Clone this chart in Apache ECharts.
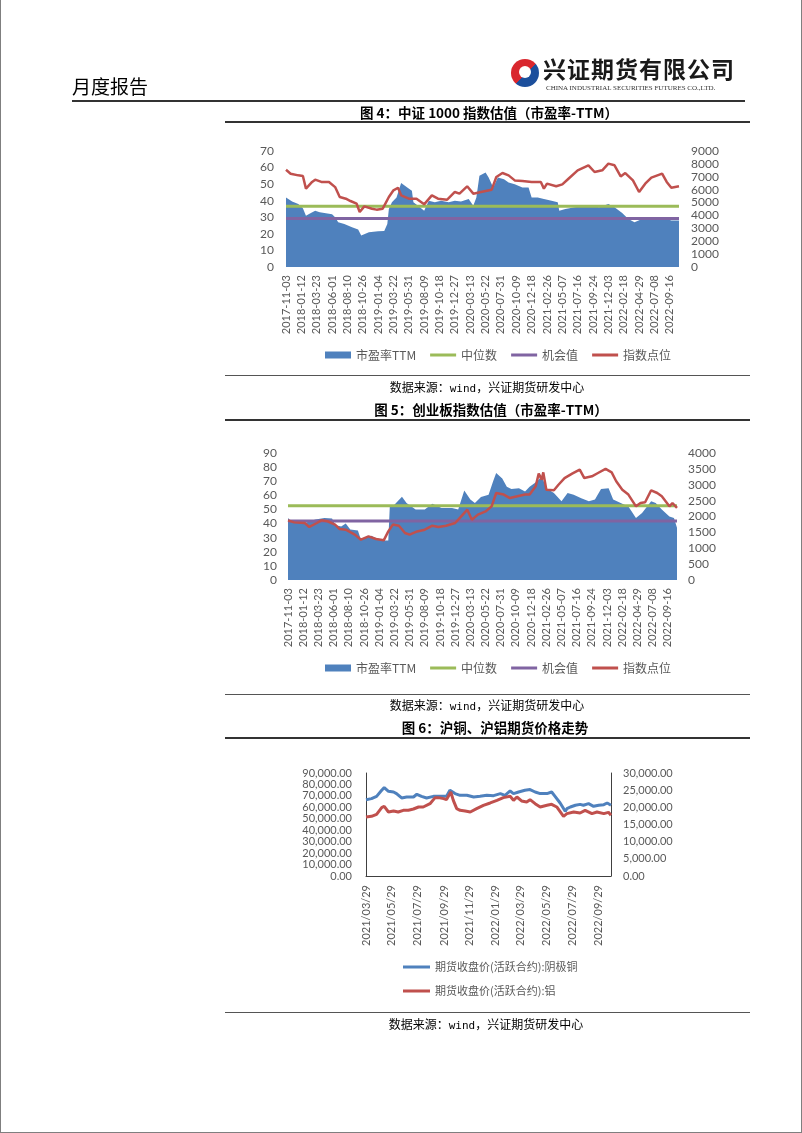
<!DOCTYPE html>
<html>
<head>
<meta charset="utf-8">
<script src="https://cdn.jsdelivr.net/npm/echarts@6/dist/echarts.min.js"></script>
<style>
html, body { margin: 0; padding: 0; background: #fff; }
#page { position: relative; width: 802px; height: 1133px; overflow: hidden; font-family: "Noto Sans CJK SC", sans-serif; }
#frame { position: absolute; left: 0; top: 0; width: 802px; height: 1133px; box-sizing: border-box; border: 1px solid #7f7f7f; border-top: none; }
#chart { position: absolute; left: 0; top: 0; width: 802px; height: 1133px; }
.t { position: absolute; white-space: nowrap; }
.rule { position: absolute; height: 1px; background: #333; }
.cap { position: absolute; font-weight: bold; font-size: 13.5px; line-height: 16px; transform: translateX(-50%); white-space: nowrap; color: #000; }
.src { position: absolute; font-size: 12px; line-height: 14px; transform: translateX(-50%); white-space: nowrap; color: #000; }
.src span { font-family: "DejaVu Sans Mono", monospace; font-size: 11px; }
#logo { position: absolute; left: 511px; top: 59px; width: 28px; height: 28px; border-radius: 50%;
  background: linear-gradient(135deg, #d9272e 0%, #d9272e 52%, #1c4f9c 52%, #1c4f9c 100%); }
#logo::after { content: ""; position: absolute; left: 8px; top: 7px; width: 12px; height: 12px; border-radius: 50%; background: #fff; }
</style>
</head>
<body>
<div id="page">
  <div id="chart"></div>
  <div id="frame"></div>
  <div class="t" style="left:72px;top:75px;font-size:19px;line-height:22px;color:#000;">月度报告</div>
  <div id="logo"></div>
  <div class="t" style="left:543px;top:56px;font-size:23px;line-height:25px;font-weight:bold;letter-spacing:1px;color:#1a1a1a;">兴证期货有限公司</div>
  <div class="t" style="left:546px;top:84px;font-size:7px;line-height:8px;font-family:'Liberation Serif',serif;color:#333;">CHINA INDUSTRIAL SECURITIES FUTURES CO.,LTD.</div>
  <div class="rule" style="left:72px;top:100px;width:673px;height:1.5px;"></div>

  <div class="cap" style="left:489px;top:104px;">图 4：中证 1000 指数估值（市盈率-TTM）</div>
  <div class="rule" style="left:225px;top:121px;width:525px;height:1.5px;"></div>
  <div class="rule" style="left:225px;top:375px;width:525px;background:#555;"></div>
  <div class="src" style="left:487px;top:380px;">数据来源：<span>wind</span>，兴证期货研发中心</div>

  <div class="cap" style="left:491px;top:401px;">图 5：创业板指数估值（市盈率-TTM）</div>
  <div class="rule" style="left:225px;top:419px;width:525px;height:1.5px;"></div>
  <div class="rule" style="left:225px;top:694px;width:525px;background:#555;"></div>
  <div class="src" style="left:487px;top:698px;">数据来源：<span>wind</span>，兴证期货研发中心</div>

  <div class="cap" style="left:495px;top:719px;">图 6：沪铜、沪铝期货价格走势</div>
  <div class="rule" style="left:225px;top:737px;width:525px;height:1.5px;"></div>
  <div class="rule" style="left:225px;top:1012px;width:525px;background:#555;"></div>
  <div class="src" style="left:486px;top:1017px;">数据来源：<span>wind</span>，兴证期货研发中心</div>
</div>
<script>
// ---- 图4 中证1000 (周数据, 以周序号定位) ----
const csiTicks = ['2017-11-03','2018-01-12','2018-03-23','2018-06-01','2018-08-10','2018-10-26','2019-01-04','2019-03-22','2019-05-31','2019-08-09','2019-10-18','2019-12-27','2020-03-13','2020-05-22','2020-07-31','2020-10-09','2020-12-18','2021-02-26','2021-05-07','2021-07-16','2021-09-24','2021-12-03','2022-02-18','2022-04-29','2022-07-08','2022-09-16'];
const lastWeek = 256;
const csiPeWeeks = [0,4,8,11,13,15,19,22,25,30,32,34,38,43,47,49,54,60,64,66,67,69,72,75,79,82,83,86,90,93,97,101,106,110,114,119,122,124,126,130,132,135,138,142,145,149,154,158,160,164,168,173,177,178,182,188,197,204,210,214,219,223,227,232,238,245,251,256];
const csiPe = [42,39.6,38,35.5,31,32,34,33,32.6,31.8,30,27,26,24,22.7,19,21,21.5,21.7,26,35,39,42,50.7,48,46,39,37,34,40,39,40,39,40,39.6,41,37,42,55,57,54,48,54,53,51,50,48,48,42,42,41,40,39,34,35,36,37,36,38,36,32.6,29,27,29,30,30,28,28];
const csiIdxWeeks = [0,3,8,11,13,17,19,23,28,32,35,39,42,46,48,51,56,59,63,67,70,73,75,80,85,90,95,99,105,110,113,118,122,127,134,137,141,145,149,154,160,166,168,170,176,180,184,190,197,201,206,210,214,218,221,226,230,234,238,245,248,251,256];
const csiIdx = [7550,7240,7110,7060,6080,6600,6775,6600,6600,6200,5430,5300,5120,4910,4270,4700,4525,4450,4525,5430,5950,6150,5560,5300,5300,4860,5560,5300,5220,5820,5690,6260,5690,5820,6000,6980,7290,7110,6720,6670,6600,6600,6080,6465,6260,6410,6850,7500,7890,7370,7500,8020,7890,7030,7290,6720,5820,6465,6930,7240,6600,6150,6260];
const csiMedian = 36.6;
const csiChance = 29.2;

// ---- 图5 创业板 ----
const gemTicks = csiTicks;
const gemPeWeeks = [0,2,11,18,24,29,31,35,38,41,46,48,55,59,64,66,67,70,75,78,84,90,95,101,108,112,116,120,123,127,132,135,137,141,144,147,152,156,159,164,167,170,175,180,184,188,193,198,202,206,211,214,220,224,229,233,239,242,246,251,254,256];
const gemPe = [44,41.6,40.4,42.8,44,43.5,39,38,40,35.7,35,28.6,31.4,28.6,28,28,52,53.4,59,54.6,50,50,54,51,51,50,63.5,57,54.6,58.8,60.5,70,75.8,72,66,64.5,65,62.8,66,70,73.5,65,61.7,55.8,61.7,60.5,58,55.8,57,64.5,65,57,54,52,44,47.5,55.8,54.6,50,45,44,37];
const gemIdxWeeks = [0,4,11,14,19,22,26,31,34,38,44,48,53,58,63,66,69,73,77,80,85,90,95,99,104,110,114,118,121,125,130,134,137,142,146,151,156,159,163,165,167,168,170,175,178,182,187,192,195,200,204,209,213,216,220,224,229,232,235,239,243,246,251,253,256];
const gemIdx = [1880,1815,1795,1670,1795,1880,1850,1745,1605,1585,1430,1270,1375,1290,1250,1530,1745,1710,1480,1430,1530,1585,1710,1670,1710,1795,2005,2215,1900,2060,2160,2320,2740,2690,2580,2635,2690,2690,2950,3350,3160,3390,2845,2825,3000,3210,3350,3475,3210,3265,3370,3500,3390,3110,2845,2690,2320,2425,2450,2825,2740,2635,2320,2425,2270];
const gemMedian = 52.7;
const gemChance = 41.8;

// ---- 图6 沪铜 / 沪铝 ----
const metalTicks = ['2021-03-29','2021-05-29','2021-07-29','2021-09-29','2021-11-29','2022-01-29','2022-03-29','2022-05-29','2022-07-29','2022-09-29'];
const metalStart = '2021-03-29';
const metalEnd = '2022-10-28';
const cuDates = ['2021-03-29','2021-04-11','2021-04-23','2021-05-05','2021-05-11','2021-05-21','2021-06-02','2021-06-09','2021-06-21','2021-07-03','2021-07-19','2021-07-27','2021-08-07','2021-08-19','2021-09-04','2021-09-20','2021-10-05','2021-10-13','2021-10-17','2021-10-25','2021-11-06','2021-11-22','2021-12-08','2021-12-23','2022-01-08','2022-01-24','2022-02-09','2022-02-20','2022-03-04','2022-03-12','2022-03-24','2022-04-08','2022-04-20','2022-05-02','2022-05-14','2022-05-30','2022-06-10','2022-06-18','2022-06-30','2022-07-12','2022-07-16','2022-07-24','2022-08-05','2022-08-16','2022-08-24','2022-09-05','2022-09-17','2022-09-29','2022-10-11','2022-10-19','2022-10-28'];
const cuPrice = [66700,67600,69600,74900,77200,74000,73400,72000,68200,69000,69000,71400,69600,68200,69600,69600,69600,74900,76300,72000,70500,70500,69000,69600,70500,70200,72000,70500,74300,72000,73400,74900,75500,73400,72000,72000,73400,69600,63800,56500,58800,60300,61800,62600,61800,63200,60900,61800,62300,63800,61800];
const alDates = ['2021-03-29','2021-04-11','2021-04-23','2021-05-05','2021-05-11','2021-05-21','2021-06-02','2021-06-13','2021-06-25','2021-07-07','2021-07-19','2021-07-31','2021-08-11','2021-08-27','2021-09-08','2021-09-16','2021-09-28','2021-10-05','2021-10-15','2021-10-21','2021-10-29','2021-11-06','2021-11-18','2021-11-30','2021-12-15','2021-12-31','2022-01-16','2022-02-01','2022-02-16','2022-03-04','2022-03-12','2022-03-20','2022-03-31','2022-04-12','2022-04-20','2022-05-02','2022-05-14','2022-05-30','2022-06-10','2022-06-22','2022-07-08','2022-07-16','2022-08-01','2022-08-16','2022-08-28','2022-09-13','2022-09-25','2022-10-11','2022-10-22','2022-10-28'];
const alPrice = [17190,17380,17960,19900,20300,18640,18930,18640,19130,19130,19520,20100,20100,21070,22820,22820,22530,22240,24470,22040,19610,19130,18930,18640,19610,20590,21270,22040,22820,23200,22040,23010,21850,21560,22240,21070,20100,20590,20880,20100,17380,18160,18640,18350,19130,18160,18640,18160,18540,17670];

const BLUE = '#4F81BD', RED = '#C0504D', GREEN = '#9BBB59', PURPLE = '#8064A2';
const GRAY = '#595959';
const pairs = (xs, ys) => xs.map((x, i) => [x, ys[i]]);
const flat = v => [[0, v], [lastWeek, v]];
const ts = s => new Date(s + 'T00:00:00').getTime();
const two = n => String(n).padStart(2, '0');
const fmtDate = v => { const d = new Date(v); return d.getFullYear() + '/' + two(d.getMonth() + 1) + '/' + two(d.getDate()); };

const LINE_ICON = 'path://M0,0L27,0L27,0ZM0,2L27,2L27,5L0,5ZM0,7L27,7L27,7Z';
const LINE_ICON_TALL = 'path://M0,0L27,0L27,0ZM0,5.5L27,5.5L27,8.5L0,8.5ZM0,14L27,14L27,14Z';
const tick = { color: GRAY, fontFamily: 'Lato', fontSize: 11 };
const noLines = { axisLine: { show: false }, axisTick: { show: false }, splitLine: { show: false } };

function weekAxis(gridIndex, labels) {
  return {
    gridIndex, type: 'value', min: 0, max: lastWeek, interval: 10, ...noLines,
    axisLabel: { ...tick, rotate: 90, margin: 8, formatter: v => (v % 10 === 0 && labels[v / 10]) ? labels[v / 10] : '' }
  };
}
function valAxis(gridIndex, max, interval, pos, margin) {
  return { gridIndex, type: 'value', min: 0, max, interval, position: pos, ...noLines,
    axisLabel: { ...tick, fontSize: 12, margin, formatter: v => String(v) } };
}
function peLegend(top) {
  return {
    top, left: 320, itemWidth: 26, itemHeight: 7, itemGap: 14,
    textStyle: { color: GRAY, fontSize: 12, fontFamily: 'Noto Sans CJK SC' },
    itemStyle: { borderWidth: 0 },
    data: [
      { name: '市盈率TTM', icon: 'rect' },
      { name: '中位数', icon: LINE_ICON },
      { name: '机会值', icon: LINE_ICON },
      { name: '指数点位', icon: LINE_ICON }
    ]
  };
}
function peSeries(xi, yl, yr, peW, pe, med, chance, idxW, idx) {
  return [
    { name: '市盈率TTM', type: 'line', xAxisIndex: xi, yAxisIndex: yl, data: pairs(peW, pe), symbol: 'none',
      color: BLUE, lineStyle: { width: 0 }, areaStyle: { color: BLUE, opacity: 1 } },
    { name: '中位数', type: 'line', xAxisIndex: xi, yAxisIndex: yl, data: flat(med), symbol: 'none',
      color: GREEN, lineStyle: { width: 3, color: GREEN } },
    { name: '机会值', type: 'line', xAxisIndex: xi, yAxisIndex: yl, data: flat(chance), symbol: 'none',
      color: PURPLE, lineStyle: { width: 3, color: PURPLE } },
    { name: '指数点位', type: 'line', xAxisIndex: xi, yAxisIndex: yr, data: pairs(idxW, idx), symbol: 'none',
      color: RED, lineStyle: { width: 2.5, color: RED } }
  ];
}

const money = v => v.toLocaleString('en-US', { minimumFractionDigits: 2, maximumFractionDigits: 2 });
const metalLine = { show: true, lineStyle: { color: '#404040', width: 1 } };

const chart = echarts.init(document.getElementById('chart'));
chart.setOption({
  animation: false,
  grid: [
    { left: 286, top: 151, width: 393, height: 116 },
    { left: 288, top: 453, width: 389, height: 127 },
    { left: 366, top: 773, width: 245, height: 103 }
  ],
  xAxis: [
    weekAxis(0, csiTicks),
    weekAxis(1, gemTicks),
    { gridIndex: 2, type: 'value', min: ts(metalStart), max: ts(metalEnd),
      axisLine: metalLine, axisTick: { show: false }, splitLine: { show: false },
      axisLabel: { ...tick, rotate: 90, margin: 9, customValues: metalTicks.map(ts), formatter: fmtDate } }
  ],
  yAxis: [
    valAxis(0, 70, 10, 'left', 12),
    valAxis(0, 9000, 1000, 'right', 12),
    valAxis(1, 90, 10, 'left', 11),
    valAxis(1, 4000, 500, 'right', 11),
    { gridIndex: 2, type: 'value', min: 0, max: 90000, interval: 10000, position: 'left',
      axisLine: metalLine, axisTick: { show: false }, splitLine: { show: false },
      axisLabel: { ...tick, margin: 14, formatter: money } },
    { gridIndex: 2, type: 'value', min: 0, max: 30000, interval: 5000, position: 'right',
      axisLine: metalLine, axisTick: { show: false }, splitLine: { show: false },
      axisLabel: { ...tick, margin: 12, formatter: money } }
  ],
  legend: [
    peLegend(344),
    peLegend(657),
    { orient: 'vertical', top: 955, left: 398, itemWidth: 27, itemHeight: 14, itemGap: 10,
      textStyle: { color: GRAY, fontSize: 11, fontFamily: 'Noto Sans CJK SC' },
      itemStyle: { borderWidth: 0 },
      data: [
        { name: '期货收盘价(活跃合约):阴极铜', icon: LINE_ICON_TALL },
        { name: '期货收盘价(活跃合约):铝', icon: LINE_ICON_TALL }
      ] }
  ],
  series: [
    ...peSeries(0, 0, 1, csiPeWeeks, csiPe, csiMedian, csiChance, csiIdxWeeks, csiIdx),
    ...peSeries(1, 2, 3, gemPeWeeks, gemPe, gemMedian, gemChance, gemIdxWeeks, gemIdx),
    { name: '期货收盘价(活跃合约):阴极铜', type: 'line', xAxisIndex: 2, yAxisIndex: 4, symbol: 'none',
      color: BLUE, lineStyle: { width: 3, color: BLUE }, data: pairs(cuDates.map(ts), cuPrice) },
    { name: '期货收盘价(活跃合约):铝', type: 'line', xAxisIndex: 2, yAxisIndex: 5, symbol: 'none',
      color: RED, lineStyle: { width: 3, color: RED }, data: pairs(alDates.map(ts), alPrice) }
  ]
});
</script>
</body>
</html>
